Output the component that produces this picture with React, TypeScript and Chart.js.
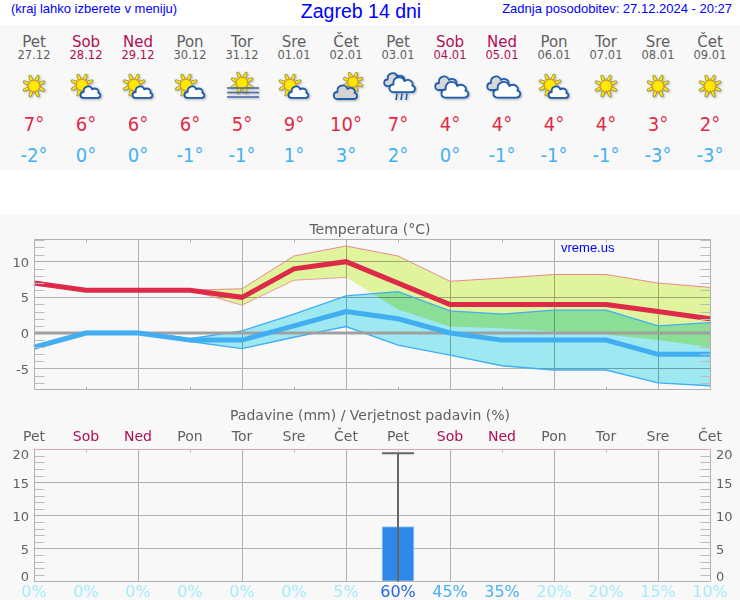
import React, { useEffect, useRef } from "react";
import { Chart, registerables } from "chart.js";

const dayNames = ["Pet", "Sob", "Ned", "Pon", "Tor", "Sre", "Čet", "Pet", "Sob", "Ned", "Pon", "Tor", "Sre", "Čet"];
const dates = ["27.12", "28.12", "29.12", "30.12", "31.12", "01.01", "02.01", "03.01", "04.01", "05.01", "06.01", "07.01", "08.01", "09.01"];
const dayIcons = ["sun", "suncloud", "suncloud", "suncloud", "fog", "suncloud", "cloudsun", "rain", "cloudy", "cloudy", "suncloud", "sun", "sun", "sun"];
const weekendDays = ["Sob", "Ned"];

const highMean = [7, 6, 6, 6, 5, 9, 10, 7, 4, 4, 4, 4, 3, 2];
const lowMean = [-2, 0, 0, -1, -1, 1, 3, 2, 0, -1, -1, -1, -3, -3];
const highUpper = [7, 6, 6, 6, 6.2, 10.8, 12.2, 10.8, 7.25, 7.7, 8.2, 8.2, 7.0, 6.4];
const highLower = [7, 6, 6, 6, 3.9, 7.4, 7.8, 3.3, 0.9, 0.65, 0.2, -0.2, -1.0, -2.0];
const lowUpper = [-2, 0.2, 0.2, -0.8, 0.3, 2.65, 5.2, 5.8, 3.1, 2.65, 3.2, 3.2, 1.0, 1.45];
const lowLower = [-2, 0, 0, -1.2, -2.2, -0.6, 0.9, -1.7, -3.1, -4.6, -5.2, -5.2, -7.0, -7.4];
const zeroLine = [0, 0, 0, 0, 0, 0, 0, 0, 0, 0, 0, 0, 0, 0];
const tempTicks = [10, 5, 0, -5];
const tempMinor = [13, 12, 11, 9, 8, 7, 6, 4, 3, 2, 1, -1, -2, -3, -4, -6, -7];

const rainAmount = [0, 0, 0, 0, 0, 0, 0, 8.3, 0, 0, 0, 0, 0, 0];
const rainHigh = [0, 0, 0, 0, 0, 0, 0, 19.4, 0, 0, 0, 0, 0, 0];
const rainProbability = ["0%", "0%", "0%", "0%", "0%", "0%", "5%", "60%", "45%", "35%", "20%", "20%", "15%", "10%"];
const rainTicks = [20, 15, 10, 5, 0];
const rainMinor = [19, 18, 17, 16, 14, 13, 12, 11, 9, 8, 7, 6, 4, 3, 2, 1];

const GRID = "#b0b0b0";
const TEXT = "#606060";
const WEEKEND = "#b00d55";
const FONT = "'DejaVu Sans'";
const pctColor = (p: string) => {
  const v = parseInt(p);
  if (v >= 60) return "#2468dc";
  if (v >= 35) return "#4cb0f2";
  return "#a6ebfa";
};

const blendOn = {
  id: "blendOn",
  beforeDatasetDraw(chart: any, args: any) {
    if (chart.data.datasets[args.index].blend) chart.ctx.globalCompositeOperation = "multiply";
  },
};
const blendOff = {
  id: "blendOff",
  beforeDatasetDraw(chart: any) {
    chart.ctx.globalCompositeOperation = "source-over";
  },
};
Chart.register(blendOn, ...registerables, blendOff);

const framePlugin = {
  id: "frame",
  afterDatasetsDraw(chart: any, _a: any, o: any) {
    const { ctx, chartArea: a, scales } = chart;
    const crisp = (v: number) => Math.round(v) + 0.5;
    const line = (x1: number, y1: number, x2: number, y2: number, c: string) => {
      ctx.strokeStyle = c;
      ctx.beginPath();
      ctx.moveTo(x1, y1);
      ctx.lineTo(x2, y2);
      ctx.stroke();
    };
    ctx.save();
    ctx.lineWidth = 1;
    const l = crisp(a.left), r = crisp(a.right), t = crisp(a.top), b = crisp(a.bottom);
    line(l, t, r, t, o.topColor);
    line(l, b, r, b, GRID);
    line(l, t, l, b, GRID);
    line(r, t, r, b, GRID);
    for (const v of o.minor) {
      const y = crisp(scales.y.getPixelForValue(v));
      line(l, y, l + 10, y, "#bcbcbc");
      line(r - 10, y, r, y, "#bcbcbc");
    }
    dayNames.forEach((_, i) => {
      if (i % 2 === 1) {
        const x = crisp(scales.x.getPixelForValue(i));
        line(x, t, x, t + 3, o.topColor);
        if (o.bottomTicks) line(x, b - 3, x, b, GRID);
      }
    });
    ctx.restore();
  },
};

const rainPlugin = {
  id: "rainDecor",
  afterDatasetsDraw(chart: any) {
    const { ctx, scales } = chart;
    const y = scales.y;
    ctx.save();
    ctx.strokeStyle = "#666666";
    ctx.lineWidth = 2;
    rainHigh.forEach((h, i) => {
      if (h <= 0) return;
      const x = scales.x.getPixelForValue(i);
      ctx.beginPath();
      ctx.moveTo(x, y.getPixelForValue(0));
      ctx.lineTo(x, y.getPixelForValue(h));
      ctx.moveTo(x - 16, y.getPixelForValue(h));
      ctx.lineTo(x + 16, y.getPixelForValue(h));
      ctx.stroke();
    });
    ctx.fillStyle = TEXT;
    ctx.font = `13px ${FONT}`;
    ctx.textBaseline = "middle";
    const { top, bottom, left, right } = chart.chartArea;
    for (const v of rainTicks) {
      const p = Math.min(Math.max(y.getPixelForValue(v) + 2, top + 6), bottom - 4);
      ctx.textAlign = "right";
      ctx.fillText(String(v), left - 5, p);
      ctx.textAlign = "left";
      ctx.fillText(String(v), right + 6, p);
    }
    ctx.restore();
  },
};

const rightGutter = {
  position: "right",
  afterFit: (s: any) => { s.width = 30; },
  border: { display: false },
  grid: { display: false, drawTicks: false },
  ticks: { display: false },
};

function TempChart() {
  const ref = useRef<HTMLCanvasElement>(null);
  useEffect(() => {
    const band = (data: number[], color: string, fill: any, order: number, extra: any = {}) => ({
      data, borderColor: color, borderWidth: 1, pointRadius: 0, tension: 0, fill, order, ...extra,
    });
    const chart = new Chart(ref.current!, {
      type: "line",
      data: {
        labels: dayNames,
        datasets: [
          band(highUpper, "#ea8a8a", { target: "+1" }, 7, { backgroundColor: "#e0f49e", blend: true }),
          band(highLower, "#ec9a9a", false, 6, {
            segment: { borderColor: (c: any) => (c.p0DataIndex >= 6 ? "rgba(0,0,0,0)" : undefined) },
          }),
          band(lowUpper, "#40aef0", { target: "+1" }, 5, { backgroundColor: "#9ee8f2", blend: true, borderWidth: 1.4 }),
          band(lowLower, "#40aef0", false, 4, { borderWidth: 1.4 }),
          band(zeroLine, "#a0a0a0", false, 3, { borderWidth: 3 }),
          band(lowMean, "#40aef0", false, 2, { borderWidth: 5 }),
          band(highMean, "#dc2a48", false, 1, { borderWidth: 5 }),
        ] as any,
      },
      plugins: [framePlugin],
      options: {
        animation: false,
        responsive: false,
        layout: { autoPadding: false, padding: { left: 0, right: 0, top: 0, bottom: 9.7 } },
        scales: {
          x: {
            ticks: { display: false },
            border: { display: false },
            afterFit: (s: any) => { s.height = 1; },
            grid: { drawTicks: false, color: (c: any) => (c.index % 2 === 0 ? GRID : "rgba(0,0,0,0)") },
          },
          y: {
            min: -7.9,
            max: 13.14,
            afterBuildTicks: (s: any) => { s.ticks = tempTicks.map((value) => ({ value })); },
            afterFit: (s: any) => { s.width = 34; s.paddingTop = 0; s.paddingBottom = 0; },
            border: { display: false },
            grid: { drawTicks: false, color: GRID },
            ticks: { color: TEXT, font: { family: FONT, size: 13 }, padding: 5, labelOffset: 1.5 },
          },
          gutter: rightGutter,
        },
        plugins: {
          legend: { display: false },
          tooltip: { enabled: false },
          title: {
            display: true,
            text: "Temperatura (°C)",
            color: TEXT,
            font: { family: FONT, size: 14, weight: "normal" },
            padding: { top: 7, bottom: 0.5 },
          },
          frame: { minor: tempMinor, topColor: GRID, bottomTicks: true },
        } as any,
      },
    } as any);
    return () => chart.destroy();
  }, []);
  return <canvas ref={ref} width={740} height={185} style={{ position: "absolute", left: 0, top: 215, width: 740, height: 185 }} />;
}

function RainChart() {
  const ref = useRef<HTMLCanvasElement>(null);
  useEffect(() => {
    const chart = new Chart(ref.current!, {
      type: "bar",
      data: {
        labels: dayNames,
        datasets: [
          {
            data: rainAmount,
            xAxisID: "x",
            backgroundColor: "#2e88e8",
            borderColor: "#a8ccf0",
            borderWidth: 1,
            barThickness: 32,
          },
        ],
      },
      plugins: [framePlugin, rainPlugin],
      options: {
        animation: false,
        responsive: false,
        layout: { autoPadding: false, padding: { left: 0, right: 0, top: 0, bottom: 0 } },
        scales: {
          x: {
            position: "top",
            offset: false,
            border: { display: false },
            afterFit: (s: any) => { s.height = 24.5; },
            grid: { offset: false, drawTicks: false, color: (c: any) => (c.index % 2 === 0 ? GRID : "rgba(0,0,0,0)") },
            ticks: {
              autoSkip: false,
              maxRotation: 0,
              padding: 4,
              font: { family: FONT, size: 14 },
              color: (c: any) => (weekendDays.includes(dayNames[c.index]) ? WEEKEND : TEXT),
            },
          },
          x2: {
            type: "category",
            position: "bottom",
            offset: false,
            labels: rainProbability,
            border: { display: false },
            afterFit: (s: any) => { s.height = 18.7; },
            grid: { display: false, drawTicks: false },
            ticks: {
              autoSkip: false,
              maxRotation: 0,
              padding: 2,
              font: { family: FONT, size: 16 },
              color: (c: any) => pctColor(rainProbability[c.index]),
            },
          },
          y: {
            min: 0,
            max: 20,
            afterBuildTicks: (s: any) => { s.ticks = rainTicks.map((value) => ({ value })); },
            afterFit: (s: any) => { s.width = 34; },
            border: { display: false },
            grid: { drawTicks: false, color: GRID },
            ticks: { display: false },
          },
          gutter: rightGutter,
        },
        plugins: {
          legend: { display: false },
          tooltip: { enabled: false },
          title: {
            display: true,
            text: "Padavine (mm) / Verjetnost padavin (%)",
            color: TEXT,
            font: { family: FONT, size: 14, weight: "normal" },
            padding: { top: 8, bottom: 0 },
          },
          frame: { minor: rainMinor, topColor: "#e4a4c0", bottomTicks: false },
        } as any,
      },
    } as any);
    return () => chart.destroy();
  }, []);
  return <canvas ref={ref} width={740} height={200} style={{ position: "absolute", left: 0, top: 400, width: 740, height: 200 }} />;
}

const STROKE = "#1f5cab";

function Sun({ cx, cy, r }: { cx: number; cy: number; r: number }) {
  const rays = [];
  for (let i = 0; i < 8; i++) {
    const a = i * 45 + 22.5;
    rays.push(
      <polygon
        key={i}
        points={`${cx - 1.7},${cy - r - 0.3} ${cx + 1.7},${cy - r - 0.3} ${cx + 1},${cy - r * 2.05} ${cx - 1},${cy - r * 2.05}`}
        fill="#ffe41a"
        stroke="#8d8a3a"
        strokeWidth="0.7"
        transform={`rotate(${a} ${cx} ${cy})`}
      />
    );
  }
  return (
    <g>
      {rays}
      <circle cx={cx} cy={cy} r={r} fill="#ffea00" stroke="#e59a10" strokeWidth="1" />
    </g>
  );
}

function Cloud({ x, y, s, fill }: { x: number; y: number; s: number; fill: string }) {
  return (
    <path
      transform={`translate(${x} ${y}) scale(${s})`}
      d="M5 17 C0 17 0 10 5 10 C4 3 13 1 15 7 C19 4 24 8 22 11 C26 12 25 17 21 17 Z"
      fill={fill}
      stroke={STROKE}
      strokeWidth={1.8 / s}
      strokeLinejoin="round"
    />
  );
}

function Icon({ kind }: { kind: string }) {
  return (
    <svg
      width="40"
      height="36"
      viewBox="0 0 40 36"
      style={{ position: "absolute", left: 6, top: 68, filter: "drop-shadow(1px 1px 1px rgba(0,0,0,0.3))" }}
    >
      {kind === "sun" && <Sun cx={20} cy={18} r={5.6} />}
      {kind === "suncloud" && (
        <>
          <Sun cx={16} cy={17} r={5.6} />
          <Cloud x={13.5} y={15.5} s={0.85} fill="#ffffff" />
        </>
      )}
      {kind === "fog" && (
        <>
          <Sun cx={20} cy={15} r={5.6} />
          {[20, 24.5, 29].map((y) => (
            <line key={y} x1="5" x2="37" y1={y} y2={y} stroke="#4a6cab" strokeWidth="1.6" />
          ))}
        </>
      )}
      {kind === "cloudsun" && (
        <>
          <Sun cx={27} cy={14} r={5} />
          <Cloud x={6.5} y={14} s={1} fill="#d4d4d4" />
        </>
      )}
      {kind === "rain" && (
        <>
          <Cloud x={5} y={2} s={0.95} fill="#d8d8d8" />
          <Cloud x={10} y={5.5} s={1.1} fill="#ffffff" />
          {[19, 24, 29].map((x) => (
            <line key={x} x1={x} x2={x - 1} y1="25.5" y2="32" stroke={STROKE} strokeWidth="1.6" />
          ))}
        </>
      )}
      {kind === "cloudy" && (
        <>
          <Cloud x={4} y={5} s={1} fill="#d8d8d8" />
          <Cloud x={10} y={10} s={1.15} fill="#ffffff" />
        </>
      )}
    </svg>
  );
}

function deg(v: number) {
  return `${v}°`;
}

export default function App() {
  const abs = (top: number, size: number, color: string, family: string): React.CSSProperties => ({
    position: "absolute",
    left: 0,
    width: 52,
    top: top - size,
    height: size * 2,
    lineHeight: `${size * 2}px`,
    fontSize: size,
    color,
    fontFamily: family,
    textAlign: "center",
    whiteSpace: "nowrap",
  });
  const head: React.CSSProperties = { position: "absolute", color: "#0000ff", fontFamily: "'Liberation Sans'", whiteSpace: "nowrap" };
  return (
    <div style={{ position: "relative", width: 740, height: 600, overflow: "hidden", background: "#fff" }}>
      <style>{"html,body{margin:0;padding:0;overflow:hidden}"}</style>
      <div style={{ ...head, left: 11, top: 0, fontSize: 13, lineHeight: "18px" }}>(kraj lahko izberete v meniju)</div>
      <div style={{ ...head, left: 220, width: 282, top: 0, textAlign: "center", fontSize: 19.5, lineHeight: "22px" }}>Zagreb 14 dni</div>
      <div style={{ ...head, right: 8, top: 0, fontSize: 13, lineHeight: "18px" }}>Zadnja posodobitev: 27.12.2024 - 20:27</div>

      <div style={{ position: "absolute", left: 0, top: 25, width: 740, height: 145, background: "#f8f8f8" }} />
      <div style={{ position: "absolute", left: 0, top: 215, width: 740, height: 385, background: "#f8f8f8" }} />

      {dayNames.map((d, i) => {
        const c = weekendDays.includes(d) ? WEEKEND : TEXT;
        return (
          <div key={i} style={{ position: "absolute", left: 8 + 52 * i, top: 0, width: 52, height: 170 }}>
            <div style={abs(42, 15, c, FONT)}>{d}</div>
            <div style={abs(55, 11.5, c, FONT)}>{dates[i]}</div>
            <Icon kind={dayIcons[i]} />
            <div style={abs(124, 20, "#e02a48", "'DejaVu Sans Condensed'")}>{deg(highMean[i])}</div>
            <div style={abs(155, 20, "#44b0f2", "'DejaVu Sans Condensed'")}>{deg(lowMean[i])}</div>
          </div>
        );
      })}

      <TempChart />
      <RainChart />
      <div style={{ ...head, left: 561, top: 240, fontSize: 13, lineHeight: "16px" }}>vreme.us</div>
    </div>
  );
}
